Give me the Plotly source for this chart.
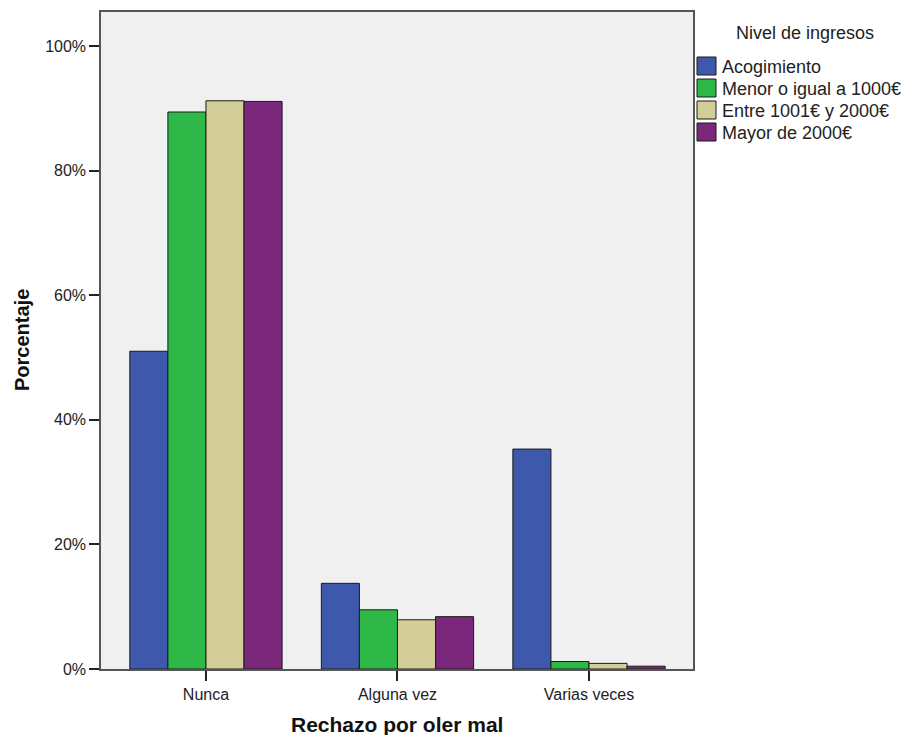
import plotly.graph_objects as go

categories = ["Nunca", "Alguna vez", "Varias veces"]
series_names = ["Acogimiento", "Menor o igual a 1000€", "Entre 1001€ y 2000€", "Mayor de 2000€"]
acogimiento = [51.0, 13.75, 35.3]
menor_1000 = [89.4, 9.5, 1.2]
entre_1001_2000 = [91.2, 7.9, 0.9]
mayor_2000 = [91.1, 8.4, 0.45]
y_ticks = [0, 20, 40, 60, 80, 100]
y_tick_labels = ["0%", "20%", "40%", "60%", "80%", "100%"]

colors = ["#3E58AC", "#2EB848", "#D3CE97", "#7B277C"]
series_values = [acogimiento, menor_1000, entre_1001_2000, mayor_2000]

W, H = 915, 735
L, R, T, B = 101, 222, 12, 66
FONT = "Liberation Sans, Arial"

fig = go.Figure()
for name, vals, col in zip(series_names, series_values, colors):
    fig.add_trace(go.Bar(
        x=categories, y=vals, name=name,
        marker=dict(color=col, line=dict(color="#1a1a1a", width=1)),
        showlegend=False,
    ))

# helpers converting page pixels to paper coordinates
def px_x(x):
    return (x - L) / (W - L - R)

def px_y(y):
    return 1 - (y - T) / (H - T - B)

shapes = []
annotations = [
    dict(x=px_x(805), y=px_y(33), xref="paper", yref="paper",
         text="Nivel de ingresos", showarrow=False, xanchor="center", yanchor="middle",
         font=dict(family=FONT, size=18, color="#222")),
    # axis titles
    dict(x=px_x(397), y=px_y(724), xref="paper", yref="paper",
         text="<b>Rechazo por oler mal</b>", showarrow=False,
         xanchor="center", yanchor="middle",
         font=dict(family=FONT, size=21, color="#111")),
    dict(x=px_x(22), y=px_y(340), xref="paper", yref="paper",
         text="<b>Porcentaje</b>", showarrow=False, textangle=-90,
         xanchor="center", yanchor="middle",
         font=dict(family=FONT, size=20, color="#111")),
]
for i, (name, col) in enumerate(zip(series_names, colors)):
    cy = 66 + 22 * i
    shapes.append(dict(
        type="rect", xref="paper", yref="paper",
        x0=px_x(697), x1=px_x(716), y0=px_y(cy - 9), y1=px_y(cy + 9),
        fillcolor=col, line=dict(color="#1a1a1a", width=1),
    ))
    annotations.append(dict(
        x=px_x(720), y=px_y(cy + 1), xref="paper", yref="paper",
        text=name, showarrow=False, xanchor="left", yanchor="middle",
        font=dict(family=FONT, size=18, color="#222"),
    ))

fig.update_layout(
    width=W, height=H,
    margin=dict(l=L, r=R, t=T, b=B, pad=0),
    paper_bgcolor="white",
    plot_bgcolor="#F0F0F0",
    barmode="group",
    bargap=0.205,
    bargroupgap=0,
    shapes=shapes,
    annotations=annotations,
    font=dict(family=FONT, color="#222"),
)
fig.update_xaxes(
    range=[-0.548, 2.543], automargin=False,
    showline=True, linecolor="#555", linewidth=1.5, mirror=True,
    ticks="outside", ticklen=10, tickcolor="#222", tickwidth=1.5,
    tickfont=dict(size=16),
    showgrid=False,
)
fig.update_yaxes(
    range=[0, 105.45], automargin=False,
    tickvals=y_ticks, ticktext=y_tick_labels,
    showline=True, linecolor="#555", linewidth=1.5, mirror=True,
    ticks="outside", ticklen=10, tickcolor="#222", tickwidth=1.5,
    tickfont=dict(size=16),
    showgrid=False, zeroline=False,
)

fig.write_html("out.html")
